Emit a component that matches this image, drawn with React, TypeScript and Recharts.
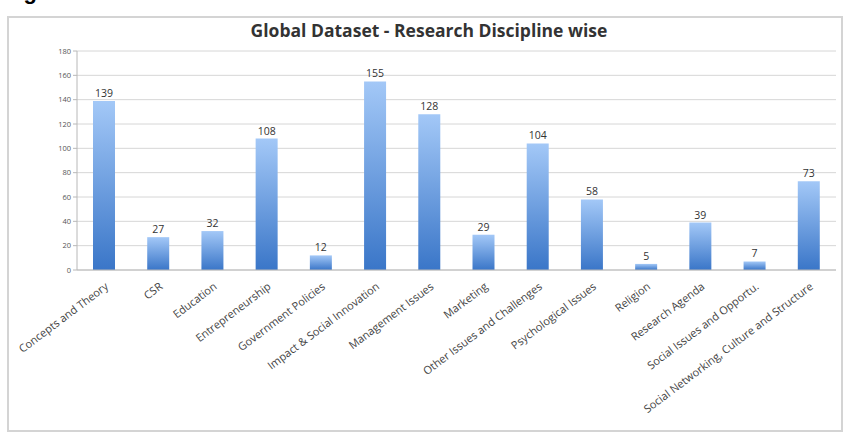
import { BarChart, Bar, XAxis, YAxis, CartesianGrid, LabelList } from 'recharts';

const disciplines = [
  'Concepts and Theory',
  'CSR',
  'Education',
  'Entrepreneurship',
  'Government Policies',
  'Impact & Social Innovation',
  'Management Issues',
  'Marketing',
  'Other Issues and Challenges',
  'Psychological Issues',
  'Religion',
  'Research Agenda',
  'Social Issues and Opportu.',
  'Social Networking, Culture and Structure',
];

const counts = [139, 27, 32, 108, 12, 155, 128, 29, 104, 58, 5, 39, 7, 73];

const yTicks = [0, 20, 40, 60, 80, 100, 120, 140, 160, 180];

const chartData = disciplines.map((name, i) => ({ name, count: counts[i] }));

// rotated category label, anchored at its end under the bar
const AngledTick = (props: any) => {
  const { x, y, payload } = props;
  return (
    <g transform={`translate(${x + 5},${y + 10})`}>
      <text
        textAnchor="end"
        transform="rotate(-37)"
        fontSize={11}
        fill="#444"
        fontFamily="'Open Sans', sans-serif"
      >
        {payload.value}
      </text>
    </g>
  );
};

export default function App() {
  return (
    <div style={{ position: 'absolute', left: 0, top: 0, width: 845, height: 433, background: '#fff', overflow: 'hidden' }}>
      <div
        style={{
          position: 'absolute',
          left: 4,
          top: -19,
          fontFamily: "'Liberation Sans', sans-serif",
          fontWeight: 'bold',
          fontSize: 22,
          lineHeight: '22px',
          color: '#000',
        }}
      >
        Fig
      </div>
      <div
        style={{
          position: 'absolute',
          left: 7,
          top: 16,
          width: 832,
          height: 412,
          border: '2px solid #d4d4d4',
        }}
      />
      <div
        style={{
          position: 'absolute',
          left: 0,
          top: 18,
          width: 858,
          textAlign: 'center',
          fontFamily: "'Open Sans', sans-serif",
          fontWeight: 'bold',
          fontSize: 17.5,
          color: '#333',
        }}
      >
        Global Dataset - Research Discipline wise
      </div>
      <BarChart
        width={845}
        height={433}
        data={chartData}
        margin={{ top: 51, right: 9, bottom: 13, left: 0 }}
        barSize={22}
        style={{ position: 'absolute', left: 0, top: 0 }}
      >
        <defs>
          <linearGradient id="barFill" x1="0" y1="0" x2="0" y2="1">
            <stop offset="0%" stopColor="#a3c8f7" />
            <stop offset="100%" stopColor="#3a76c8" />
          </linearGradient>
        </defs>
        <CartesianGrid vertical={false} stroke="#d6d6d6" />
        <XAxis
          dataKey="name"
          interval={0}
          height={150}
          tick={<AngledTick />}
          tickLine={false}
          axisLine={{ stroke: '#b8b8b8' }}
        />
        <YAxis
          width={77}
          domain={[0, 180]}
          ticks={yTicks}
          tick={{ fontSize: 7.5, fill: '#555', fontFamily: "'Open Sans', sans-serif" }}
          tickLine={{ stroke: '#b8b8b8' }}
          tickSize={4}
          axisLine={{ stroke: '#b8b8b8' }}
        />
        <Bar dataKey="count" fill="url(#barFill)" isAnimationActive={false}>
          <LabelList
            dataKey="count"
            position="top"
            offset={4}
            fontSize={10.5}
            fill="#333"
            fontFamily="'Open Sans', sans-serif"
          />
        </Bar>
      </BarChart>
    </div>
  );
}
